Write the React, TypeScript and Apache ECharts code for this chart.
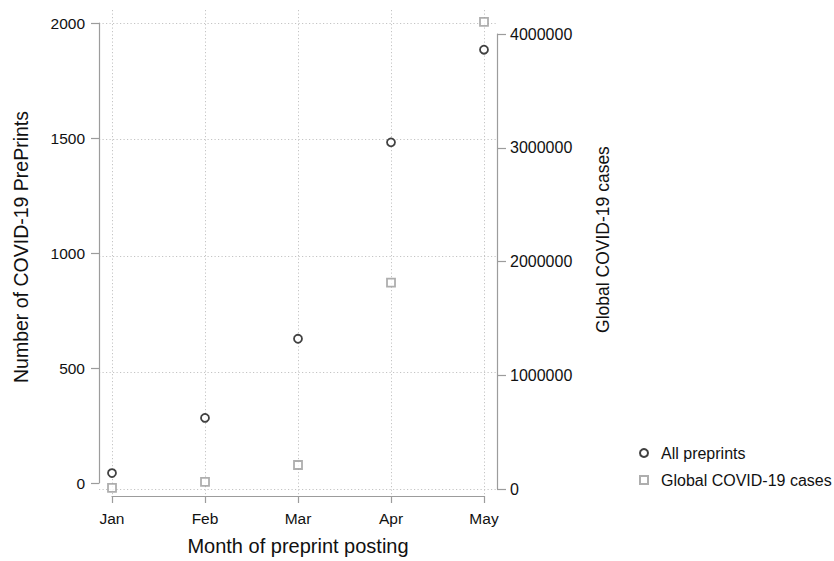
import { useEffect, useRef } from 'react';
import * as echarts from 'echarts';

const months = ['Jan', 'Feb', 'Mar', 'Apr', 'May'];
const preprints = [43, 283, 627, 1481, 1884];
const globalCases = [10000, 62000, 211000, 1815000, 4106000];
const seriesNames = ['All preprints', 'Global COVID-19 cases'];

export default function App() {
  const ref = useRef<HTMLDivElement>(null);
  useEffect(() => {
    const chart = echarts.init(ref.current!, undefined, { renderer: 'svg' });
    const font = '"Liberation Sans", Arial, Helvetica, sans-serif';
    const axisColor = '#9c9c9c';
    const textColor = '#111';
    const gridLine = { show: true, lineStyle: { color: '#c4c4c4', width: 1, type: [1.2, 2.3] } };
    const hidden = { show: false };
    const plain = (v: number) => String(v);
    chart.setOption({
      animation: false,
      backgroundColor: '#fff',
      textStyle: { fontFamily: font },
      grid: [
        { left: 112, right: 350, top: 23, bottom: 72 },
        { left: 112, right: 350, top: 34, bottom: 72 },
        { left: 112, right: 350, top: 10, bottom: 59 },
        { left: 99, right: 337, top: 23, bottom: 72 },
      ],
      xAxis: [
        {
          gridIndex: 0, type: 'category', data: months, boundaryGap: false, offset: 13, position: 'bottom',
          axisLine: { show: true, onZero: false, lineStyle: { color: axisColor, width: 1.2 } },
          axisTick: { show: true, length: 7, alignWithLabel: true, lineStyle: { color: axisColor, width: 1.2 } },
          axisLabel: { color: textColor, fontSize: 15.5, fontFamily: font, margin: 14 },
          splitLine: hidden,
          name: 'Month of preprint posting', nameLocation: 'middle', nameGap: 40,
          nameTextStyle: { fontSize: 20, color: textColor, fontFamily: font },
        },
        { gridIndex: 1, type: 'category', data: months, boundaryGap: false, show: false },
        {
          gridIndex: 2, type: 'category', data: months, boundaryGap: false,
          axisLine: { show: false, onZero: false }, axisTick: hidden, axisLabel: hidden, splitLine: gridLine,
        },
        { gridIndex: 3, type: 'category', data: months, boundaryGap: false, show: false },
      ],
      yAxis: [
        {
          gridIndex: 0, type: 'value', min: 0, max: 2000, interval: 500, position: 'left', offset: 13,
          axisLine: { show: true, onZero: false, lineStyle: { color: axisColor, width: 1.2 } },
          axisTick: { show: true, length: 8, lineStyle: { color: axisColor, width: 1.2 } },
          axisLabel: { color: textColor, fontSize: 15.5, fontFamily: font, margin: 14, formatter: plain },
          splitLine: hidden,
          name: 'Number of COVID-19 PrePrints', nameLocation: 'middle', nameGap: 68,
          nameTextStyle: { fontSize: 19.5, color: textColor, fontFamily: font, padding: [0, 0, 0, 12] },
        },
        {
          gridIndex: 1, type: 'value', min: 0, max: 4000000, interval: 1000000, position: 'right', offset: 13,
          axisLine: { show: true, onZero: false, lineStyle: { color: axisColor, width: 1.2 } },
          axisTick: { show: true, length: 9, lineStyle: { color: axisColor, width: 1.2 } },
          axisLabel: { color: textColor, fontSize: 16, fontFamily: font, margin: 13, formatter: plain },
          splitLine: hidden,
          name: 'Global COVID-19 cases', nameLocation: 'middle', nameGap: 97,
          nameTextStyle: { fontSize: 17.5, color: textColor, fontFamily: font, padding: [0, 0, 0, 44] },
        },
        { gridIndex: 2, type: 'value', show: false },
        {
          gridIndex: 3, type: 'value', min: 0, max: 2000, interval: 500,
          axisLine: { show: false, onZero: false }, axisTick: hidden, axisLabel: hidden, splitLine: gridLine,
        },
      ],
      legend: {
        orient: 'vertical', left: 634, top: 440, itemWidth: 8, itemHeight: 8, itemGap: 11,
        textStyle: { fontSize: 16, color: textColor, fontFamily: font, padding: [0, 0, 0, 8] },
        data: seriesNames,
      },
      series: [
        {
          type: 'scatter', name: seriesNames[0], xAxisIndex: 0, yAxisIndex: 0, data: preprints,
          symbol: 'circle', symbolSize: 8, clip: false,
          itemStyle: { color: '#fff', borderColor: '#111', borderWidth: 1.8 },
        },
        {
          type: 'scatter', name: seriesNames[1], xAxisIndex: 1, yAxisIndex: 1, data: globalCases,
          symbol: 'rect', symbolSize: 8, clip: false,
          itemStyle: { color: '#fff', borderColor: '#9a9a9a', borderWidth: 1.8 },
        },
      ],
    });
    return () => chart.dispose();
  }, []);
  return <div ref={ref} style={{ position: 'absolute', left: 0, top: 0, width: 834, height: 561, overflow: 'hidden' }} />;
}
